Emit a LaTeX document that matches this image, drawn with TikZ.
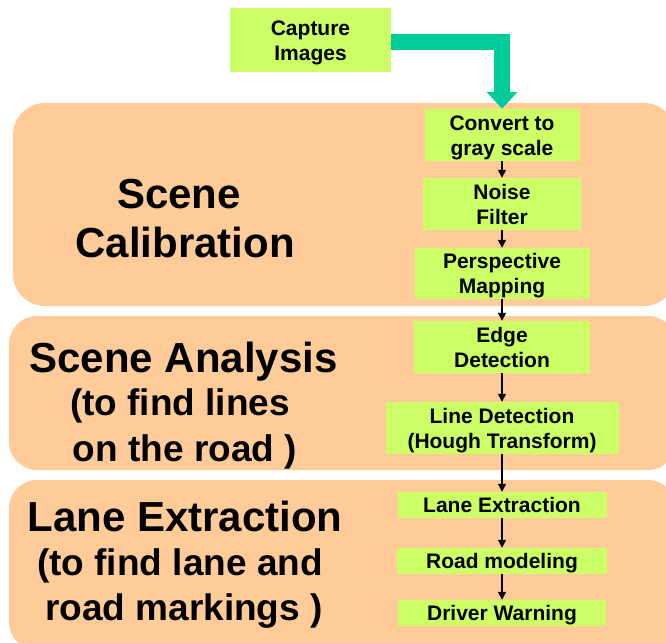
\documentclass[tikz,border=0pt]{standalone}
\usepackage{fontspec}
\setmainfont{Liberation Sans}
\usetikzlibrary{arrows.meta}
\definecolor{peach}{HTML}{FFCC99}
\definecolor{limebox}{HTML}{CCFF66}
\definecolor{flowgreen}{HTML}{00CC99}
\tikzset{
  band/.style={fill=peach},
  proc/.style={fill=limebox, inner sep=0pt, align=center,
               font=\fontsize{21}{25}\selectfont\bfseries},
  twoline/.style={text height=40.2pt, text depth=0pt},
  oneline/.style={text depth=0pt},
  bigtext/.style={anchor=base, inner sep=0pt,
                  font=\fontsize{42}{48}\selectfont\bfseries},
  subtext/.style={anchor=base, inner sep=0pt,
                  font=\fontsize{37}{40}\selectfont\bfseries},
  flow/.style={draw=black, line width=1.5pt,
               -{Triangle[width=8pt,length=8pt]}},
  feed/.style={draw=flowgreen, line width=16pt, line join=miter,
               -{Triangle[width=30pt,length=17pt]}}
}
\begin{document}
\begin{tikzpicture}[x=1pt,y=-1pt]
\useasboundingbox (0,0) rectangle (666,642);
\clip (0,0) rectangle (666,642);

% stage backgrounds
\fill[band, rounded corners=32pt] (13,103) rectangle (676,306);
\fill[band, rounded corners=28pt] (9,316) rectangle (676,470);
\fill[band, rounded corners=28pt] (9,480) rectangle (676,650);

% stage titles
\node[bigtext] (calA) at (179,208) {Scene};
\node[bigtext] (calB) at (185,257) {Calibration};

\node[bigtext] (anaA) at (183.5,372) {Scene Analysis};
\node[subtext] (anaB) at (180,415) {(to find lines};
\node[subtext] (anaC) at (185,461) {on the road )};

\node[bigtext] (extA) at (185,531) {Lane Extraction};
\node[subtext] (extB) at (180,575) {(to find lane and};
\node[subtext] (extC) at (184,620) {road markings )};

% processing steps
\node[proc, twoline, minimum width=161pt, minimum height=64pt] (cap)   at (310.5,40) {Capture\\Images};
\node[proc, twoline, minimum width=155pt, minimum height=52pt] (conv)  at (502,135) {Convert to\\gray scale};
\node[proc, twoline, minimum width=158pt, minimum height=52pt] (noise) at (502,204) {Noise\\Filter};
\node[proc, twoline, minimum width=175pt, minimum height=51pt] (persp) at (502,273.5) {Perspective\\Mapping};
\node[proc, twoline, minimum width=176pt, minimum height=52pt] (edge)  at (502,347) {Edge\\Detection};
\node[proc, twoline, minimum width=233pt, minimum height=52pt] (lined) at (502,428) {Line Detection\\(Hough Transform)};
\node[proc, oneline, minimum width=209pt, minimum height=26pt] (lanex) at (502,505) {Lane Extraction};
\node[proc, oneline, minimum width=210pt, minimum height=26pt] (road)  at (502,561) {Road modeling};
\node[proc, oneline, minimum width=208pt, minimum height=26pt] (warn)  at (502,613) {Driver Warning};

% image feed into the pipeline
\draw[feed] ([yshift=-2.5pt]cap.east) -- ([yshift=-2.5pt]cap.east -| conv.north) -- (conv.north);

% step connectors
\draw[flow] (conv.south)  -- (noise.north);
\draw[flow] (noise.south) -- (persp.north);
\draw[flow] (persp.south) -- (edge.north);
\draw[flow] (edge.south)  -- (lined.north);
\draw[flow] (lined.south) -- (lanex.north);
\draw[flow] (lanex.south) -- (road.north);
\draw[flow] (road.south)  -- (warn.north);
\end{tikzpicture}
\end{document}
